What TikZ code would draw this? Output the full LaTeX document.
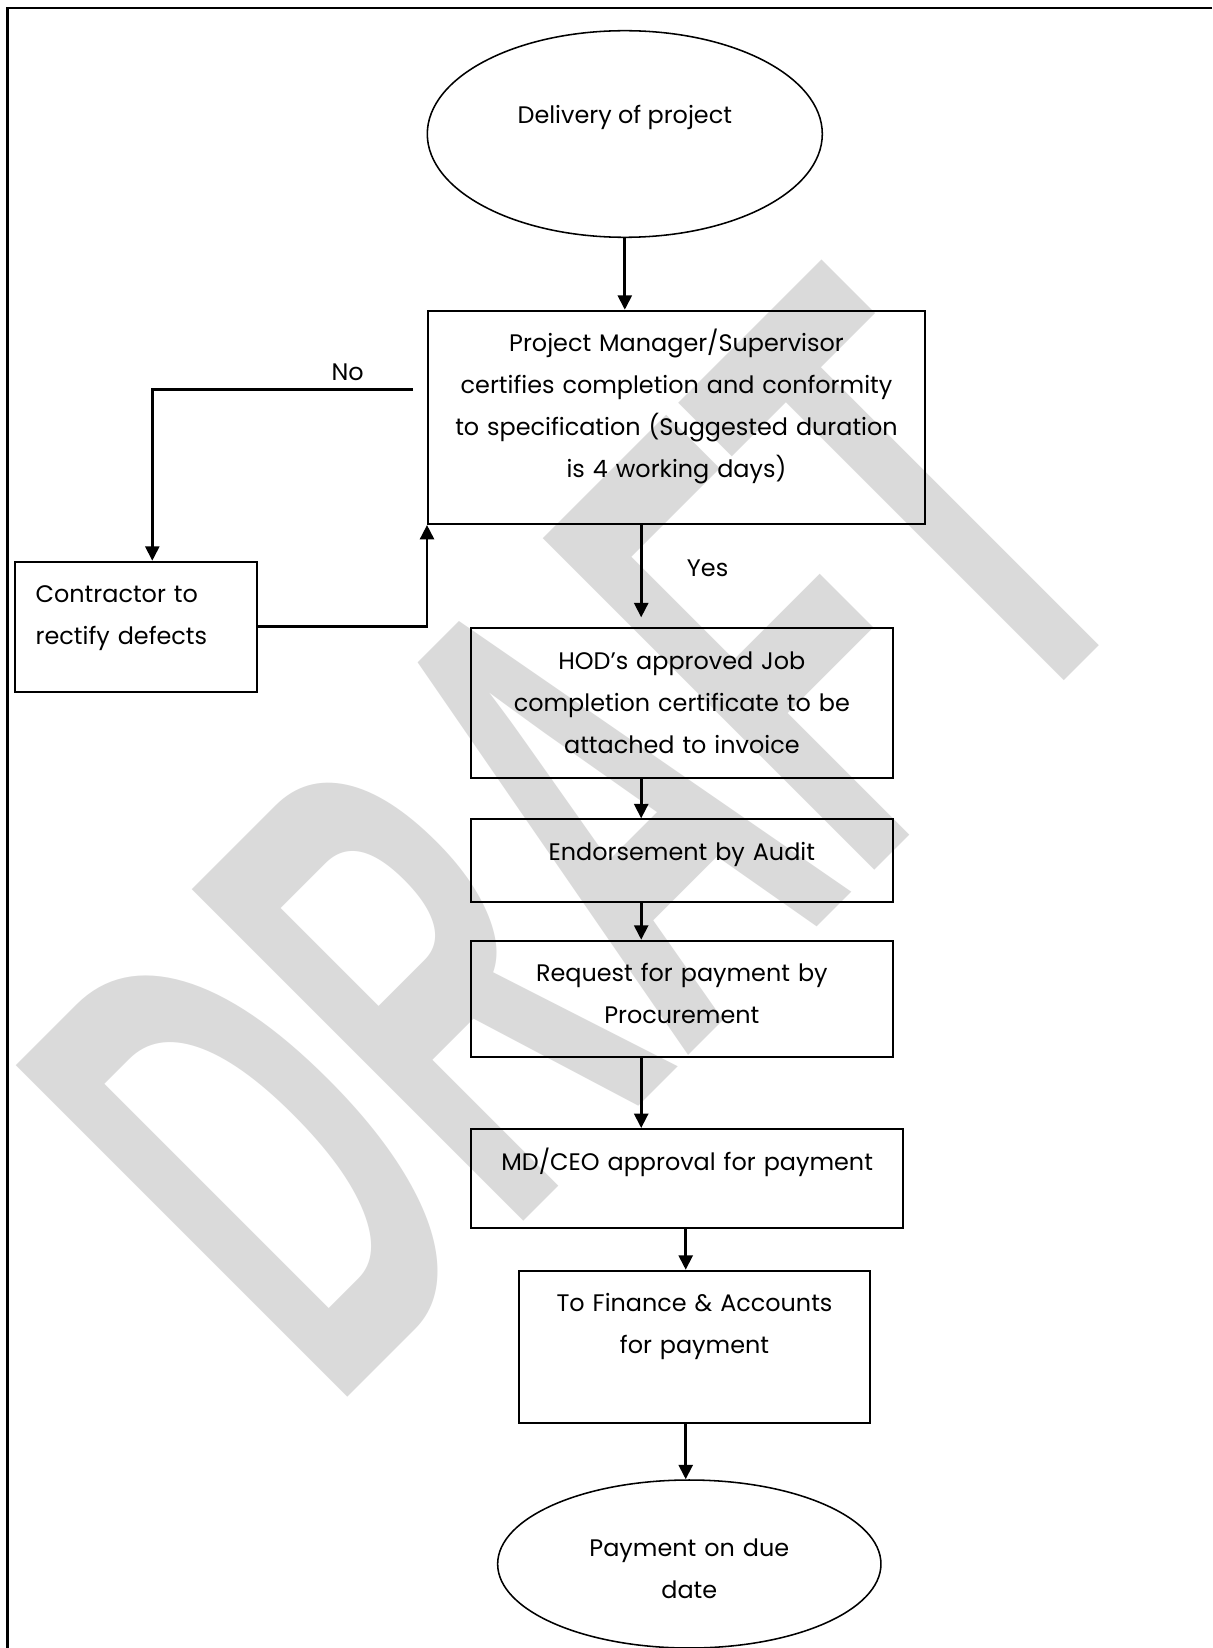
\documentclass[tikz,border=0pt]{standalone}
\usepackage{fontspec}
\setmainfont{Poppins}
\newfontfamily\draftfont{Liberation Sans}
\usepackage{xcolor}
\usetikzlibrary{arrows.meta,positioning,shapes.geometric}
\definecolor{draftgrey}{RGB}{218,218,218}

\begin{document}
\begin{tikzpicture}[every node/.style={font=\fontsize{17pt}{29.9pt}\selectfont},
  box/.style={draw, line width=1.4pt, inner xsep=0.1cm, inner ysep=0pt, align=center, text height=1.025cm},
  term/.style={draw, ellipse, line width=1.1pt, inner sep=0pt, align=center, text height=0.5cm},
  flow/.style={-{Triangle[length=0.36cm,width=0.35cm]}, line width=1.9pt},
  tag/.style={inner sep=0pt, anchor=base}]
  \path[fill=white, use as bounding box] (0,0) rectangle (30.3,-41.2);
  \node[text=draftgrey, rotate=45, xscale=2.04, yscale=4.04, inner sep=0pt, font=\draftfont\bfseries\fontsize{120pt}{120pt}\selectfont] (draft) at (14.45,-20.88) {DRAFT};
  \draw[line width=1.9pt] (30.3,-0.2) -- (0.19,-0.2) -- (0.19,-41.2);
  \node[term, minimum width=9.875cm, minimum height=5.165cm, text depth=1.035cm] (del) at (15.62,-3.35) {Delivery of project};
  \node[box, text width=12.225cm, text depth=4.3075cm] (pm) at (16.9125,-10.434) {Project Manager/Supervisor\\certifies completion and conformity\\to specification (Suggested duration\\is 4 working days)};
  \node[box, text width=5cm, align=left, inner xsep=0.525cm, text depth=2.225cm] (fix) at (3.3925,-15.6675) {Contractor to\\rectify defects};
  \node[box, text width=10.3425cm, text depth=2.725cm] (hod) at (17.046,-17.5825) {HOD’s approved Job\\completion certificate to be\\attached to invoice};
  \node[box, text width=10.3425cm, text depth=1.0425cm] (aud) at (17.046,-21.516) {Endorsement by Audit};
  \node[box, text width=10.3425cm, text depth=1.875cm] (req) at (17.046,-24.9675) {Request for payment by\\Procurement};
  \node[box, text width=10.6075cm, text depth=1.4575cm] (md) at (17.179,-29.466) {MD/CEO approval for payment};
  \node[box, text width=8.575cm, text depth=2.79cm] (fin) at (17.3625,-33.675) {To Finance \& Accounts\\for payment};
  \node[term, text width=5cm, minimum width=9.5825cm, minimum height=4.2cm, text depth=0.865cm] (pay) at (17.2325,-39.1) {Payment on due\\date};
  \node[tag] (no) at (8.69,-9.5) {No};
  \node[tag] (yes) at (17.69,-14.42) {Yes};
  \coordinate (spine) at (16.03,0);
  \coordinate (spine2) at (17.1425,0);
  \draw[flow] (del.south) -- (del.south |- pm.north);
  \draw[flow, shorten <=0.35cm] ([yshift=0.7cm]pm.west) -| ([xshift=0.415cm]fix.north);
  \draw[flow] (fix.east) -| (pm.south west);
  \draw[flow, shorten >=0.25cm] (pm.south -| spine) -- (hod.north -| spine);
  \foreach \a/\b in {hod/aud, aud/req, req/md} \draw[flow] (\a.south -| spine) -- (\b.north -| spine);
  \foreach \a/\b in {md/fin, fin/pay} \draw[flow] (\a.south -| spine2) -- (\b.north -| spine2);
\end{tikzpicture}
\end{document}
